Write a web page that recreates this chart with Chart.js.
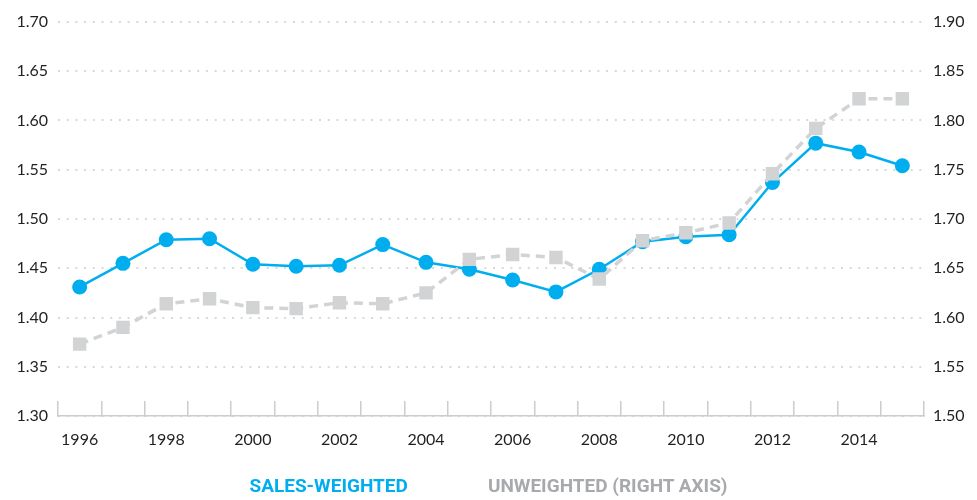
<!DOCTYPE html>
<html lang="en">
<head>
  <meta charset="UTF-8">
  <title>Sales-weighted vs unweighted</title>
  <script src="https://cdn.jsdelivr.net/npm/chart.js"></script>
  <style>
    html, body { margin: 0; padding: 0; background: #fff; }
    .wrap { position: relative; width: 977px; height: 500px; }
    #chart { display: block; }
    .legend { position: absolute; left: 0; top: 474px; width: 977px; text-align: center;
      font-family: 'Liberation Sans Narrow', 'Roboto', sans-serif; font-weight: bold; font-size: 19px; line-height: 24px; }
    .legend span { display: inline-block; margin: 0 40px; }
  </style>
</head>
<body>
  <div class="wrap">
    <canvas id="chart" width="977" height="500"></canvas>
    <div class="legend" id="legend"></div>
  </div>
  <script>
    const years = ['1996','1997','1998','1999','2000','2001','2002','2003','2004','2005',
                   '2006','2007','2008','2009','2010','2011','2012','2013','2014','2015'];
    const salesWeighted = [1.431, 1.455, 1.479, 1.480, 1.454, 1.452, 1.453, 1.474, 1.456, 1.449,
                           1.438, 1.426, 1.449, 1.477, 1.482, 1.484, 1.537, 1.577, 1.568, 1.554];
    const unweighted = [1.573, 1.590, 1.614, 1.619, 1.610, 1.609, 1.615, 1.614, 1.625, 1.659,
                        1.664, 1.661, 1.639, 1.678, 1.686, 1.696, 1.746, 1.792, 1.822, 1.822];
    const leftTicks = [1.30, 1.35, 1.40, 1.45, 1.50, 1.55, 1.60, 1.65, 1.70];
    const rightTicks = [1.50, 1.55, 1.60, 1.65, 1.70, 1.75, 1.80, 1.85, 1.90];
    const seriesNames = ['SALES-WEIGHTED', 'UNWEIGHTED (RIGHT AXIS)'];
    const seriesColors = ['#00aeef', '#d1d3d4'];
    const legendColors = ['#00aeef', '#a7a9ac'];

    const tickFont = { family: 'Lato', size: 16 };

    new Chart(document.getElementById('chart'), {
      type: 'line',
      data: {
        labels: years,
        datasets: [
          {
            label: seriesNames[0],
            data: salesWeighted,
            yAxisID: 'y',
            borderColor: seriesColors[0],
            backgroundColor: seriesColors[0],
            borderWidth: 2.5,
            pointRadius: 7.5,
            pointBorderWidth: 0,
            tension: 0,
            order: 2
          },
          {
            label: seriesNames[1],
            data: unweighted,
            yAxisID: 'y2',
            borderColor: seriesColors[1],
            backgroundColor: seriesColors[1],
            borderWidth: 3.5,
            borderDash: [9, 6],
            pointStyle: 'rect',
            pointRadius: 9.5,
            pointBorderWidth: 0,
            tension: 0,
            order: 1
          }
        ]
      },
      options: {
        responsive: false,
        animation: false,
        layout: { padding: { top: 22, bottom: 0, left: 0, right: 0 } },
        plugins: { legend: { display: false }, tooltip: { enabled: false } },
        scales: {
          x: {
            offset: true,
            grid: { offset: true, drawOnChartArea: false, drawTicks: true, tickLength: -15, color: '#cccccc', lineWidth: 1.5 },
            border: { display: true, color: '#cccccc', width: 1.5 },
            ticks: {
              autoSkip: false, maxRotation: 0, padding: 29, color: '#231f20', font: tickFont,
              callback: (v, i) => (i % 2 === 0 ? years[i] : '')
            },
            afterFit: s => { s.height = 84; }
          },
          y: {
            position: 'left',
            min: leftTicks[0], max: leftTicks[leftTicks.length - 1],
            afterBuildTicks: s => { s.ticks = leftTicks.map(v => ({ value: v })); },
            grid: { drawTicks: false, color: '#d9d9d9', lineWidth: 2 },
            // in v4 the dash of the grid lines sits under border
            border: { display: false, dash: [2, 6.7] },
            ticks: { padding: 10, color: '#231f20', font: tickFont, callback: v => v.toFixed(2) },
            afterFit: s => { s.width = 58; }
          },
          y2: {
            position: 'right',
            min: rightTicks[0], max: rightTicks[rightTicks.length - 1],
            afterBuildTicks: s => { s.ticks = rightTicks.map(v => ({ value: v })); },
            grid: { display: false, drawTicks: false },
            border: { display: false },
            ticks: { padding: 9, color: '#231f20', font: tickFont, callback: v => v.toFixed(2) },
            afterFit: s => { s.width = 53; }
          }
        }
      }
    });

    // legend below the plot
    document.getElementById('legend').innerHTML = seriesNames
      .map((n, i) => '<span style="color:' + legendColors[i] + '">' + n + '</span>').join('');
  </script>
</body>
</html>
